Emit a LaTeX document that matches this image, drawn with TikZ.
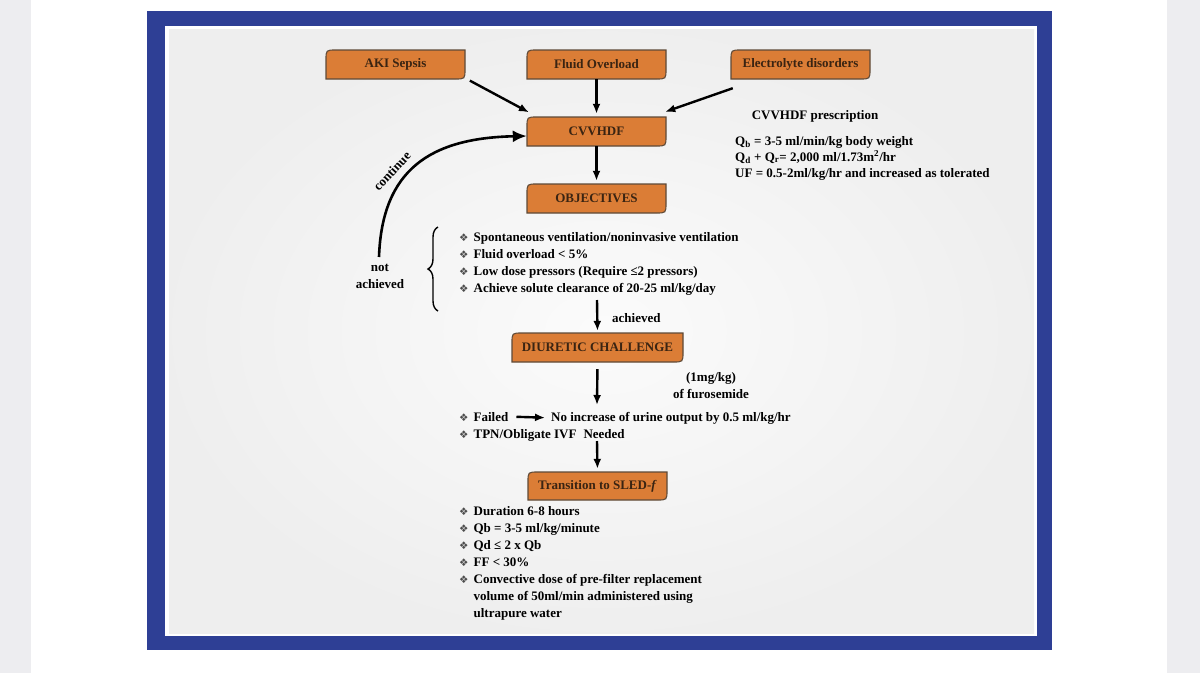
\documentclass[tikz,border=0pt]{standalone}
\usepackage{fontspec}
\setmainfont{Liberation Serif}
\newfontfamily\symfont{DejaVu Sans}
\usetikzlibrary{arrows.meta,decorations.pathreplacing}

\definecolor{boxfill}{HTML}{DB7D36}
\definecolor{boxedge}{HTML}{5E4A38}
\definecolor{boxtext}{HTML}{3A2412}
\definecolor{frameblue}{HTML}{2E3F95}
\definecolor{pagegray}{HTML}{EDEDF0}

\tikzset{
  boxshape/.style={fill=boxfill, draw=boxedge, line width=1.1pt},
  boxlabel/.style={text=boxtext, font=\bfseries\fontsize{13}{15}\selectfont, inner sep=0pt},
  plain/.style={font=\bfseries\fontsize{13}{17}\selectfont, inner sep=0pt},
  flow/.style={line width=2.4pt, -{Latex[length=10pt,width=8pt]}},
}

\newcommand\bul{{\symfont\fontsize{10.5}{10.5}\selectfont\color{black!70}❖}}

% name, left, top, right, bottom, text
\newcommand\flowbox[6]{%
  \path[boxshape] (#2,#5) -- (#2,#3+10) .. controls (#2,#3) .. (#2+10,#3) -- (#4,#3)
    -- (#4,#5-10) .. controls (#4,#5) .. (#4-10,#5) -- cycle;
  \node[boxlabel, minimum width={(#4-#2)*1pt}, minimum height={(#5-#3)*1pt}]
    (#1) at ({(#2+#4)/2},{(#3+#5)/2}) {#6};}

\begin{document}
\begin{tikzpicture}[x=1pt,y=-1pt]

    \useasboundingbox (0,0) rectangle (1200,673);
    \fill[pagegray] (0,0) rectangle (1200,673);
    \fill[white] (31,0) rectangle (1167,673);
    \fill[frameblue] (147,11) rectangle (1052,650);
    \fill[white] (165,26) rectangle (1037,636);
    \shade[inner color=gray!3, outer color=gray!13] (169,29) rectangle (1034,633);

    \flowbox{aki}{326}{50}{465}{79}{AKI Sepsis}
    \flowbox{fluid}{527}{50}{666}{79}{Fluid Overload}
    \flowbox{elec}{731}{50}{870}{79}{Electrolyte disorders}
    \flowbox{cvvhdf}{527}{117}{666}{146}{CVVHDF}
    \flowbox{objectives}{527}{184}{666}{213}{OBJECTIVES}
    \flowbox{diuretic}{512}{333}{683}{362}{DIURETIC CHALLENGE}
    \flowbox{sled}{528}{472}{667}{500}{Transition to SLED-\textit{f}}

    \node[plain] (prestitle) at (815,116) {CVVHDF prescription};
    \node[plain, anchor=base west] (presc) at (735,145) {\begin{tabular}[t]{@{}l@{}}
      Q\textsubscript{b} = 3-5 ml/min/kg body weight\\[-1pt]
      Q\textsubscript{d} + Q\textsubscript{r}= 2,000 ml/1.73m\textsuperscript{2}/hr\\[-1pt]
      UF = 0.5-2ml/kg/hr and increased as tolerated
    \end{tabular}};

    \node[plain, anchor=base west] (goals) at (459,241) {\begin{tabular}[t]{@{}l@{\hspace{5pt}}l@{}}
      \bul & Spontaneous ventilation/noninvasive ventilation\\
      \bul & Fluid overload < 5\%\\
      \bul & Low dose pressors (Require ≤2 pressors)\\
      \bul & Achieve solute clearance of 20-25 ml/kg/day
    \end{tabular}};
    \draw[decorate, decoration={brace, amplitude=10pt}, line width=1.4pt] (438,311) -- (438,227);
    \node[plain, align=center] (notach) at (380,276) {not\\achieved};
    \coordinate (cont) at (379,257);
    \draw[line width=2.6pt, -{Latex[length=14pt,width=12pt]}] (cont) .. controls (382,170) and (430,138) .. ([yshift=-4.5pt]cvvhdf.west);
    \node[plain, rotate=47] (contlabel) at (392,171) {continue};

    \coordinate (achtop) at (597,300);
    \draw[flow, shorten >=2pt] (achtop) -- (diuretic.north);
    \node[plain, anchor=west] (achieved) at (612,318) {achieved};

    \node[plain, align=center] (furo) at (711,386) {(1mg/kg)\\of furosemide};
    \coordinate (furoend) at (597,405);
    \draw[flow, shorten <=7pt] (diuretic.south) -- (furoend);

    \node[plain, anchor=base west] (failed) at (459,421) {\bul\hspace{5pt}Failed};
    \node[plain, anchor=base west] (noinc) at (551,421) {No increase of urine output by 0.5 ml/kg/hr};
    \node[plain, anchor=base west] (tpn) at (459,438) {\bul\hspace{5pt}TPN/Obligate IVF\hspace{7pt}Needed};
    \draw[flow, shorten <=8pt, shorten >=6pt] (failed.east) -- (noinc.west);

    \coordinate (tpnend) at (597,441);
    \draw[flow, shorten >=3pt] (tpnend) -- (sled.north);

    \node[plain, anchor=base west] (sledlist) at (459,515) {\begin{tabular}[t]{@{}l@{\hspace{5pt}}l@{}}
      \bul & Duration 6-8 hours\\
      \bul & Qb = 3-5 ml/kg/minute\\
      \bul & Qd ≤ 2 x Qb\\
      \bul & FF < 30\%\\
      \bul & Convective dose of pre-filter replacement\\
           & volume of 50ml/min administered using\\
           & ultrapure water
    \end{tabular}};

    \draw[flow, shorten <=3pt, shorten >=1pt] ([xshift=2pt]aki.south east) -- ([shift={(3,-4)}]cvvhdf.north west);
    \draw[flow, shorten >=3pt] (fluid.south) -- (cvvhdf.north);
    \draw[flow] ([shift={(2,9)}]elec.south west) -- ([shift={(-1,-5)}]cvvhdf.north east);
    \draw[flow, shorten >=3pt] (cvvhdf.south) -- (objectives.north);

\end{tikzpicture}
\end{document}
